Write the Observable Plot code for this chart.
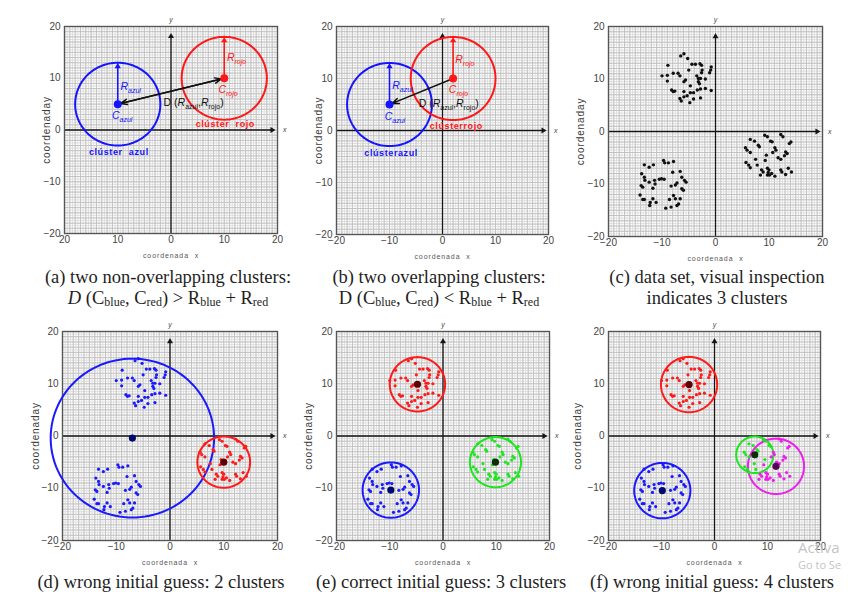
<!DOCTYPE html>
<html><head><meta charset="utf-8">
<script src="https://cdn.jsdelivr.net/npm/d3@7"></script>
<script src="https://cdn.jsdelivr.net/npm/@observablehq/plot@0.6"></script>
<style>
html,body{margin:0;padding:0;background:#fff;}
body{width:848px;height:592px;overflow:hidden;position:relative;font-family:"Liberation Sans",Arial,sans-serif;}
.panel{position:absolute;}
.cap{position:absolute;font-family:"Liberation Serif","Times New Roman",serif;font-size:18.5px;line-height:21px;color:#1e1e1e;text-align:center;white-space:nowrap;transform:translateX(-50%);}
.cap sub{font-size:12px;vertical-align:-2px;line-height:0;}
.wm{position:absolute;font-family:"Open Sans","Liberation Sans",sans-serif;color:#c4c4c4;white-space:nowrap;}
</style></head><body>
<script>
// ---------- data ----------
const axisTicks = [-20, -10, 0, 10, 20];

// three point clouds (reused in d, e, f)
const clusterA = [[-6.5,14.4],[-5.9,14.8],[-5.2,13.9],[-8.9,12.6],[-4.4,12.8],[-3.75,12.8],[-2.9,12.9],[-2.6,12.6],[-0.8,12.3],[-0.9,11.7],[-1.1,11.2],[-5.0,11.7],[-2.5,11.7],[-2.6,11.2],[-10.0,10.6],[-9.0,10.7],[-7.9,11.1],[-7.0,11.1],[-6.65,10.6],[-3.5,10.6],[-3.2,10.1],[-2.8,10.1],[-1.9,10.0],[-9.0,9.6],[-5.6,9.8],[-5.9,9.5],[-3.2,9.5],[-3.0,9.1],[-4.7,8.7],[-8.2,7.9],[-7.9,7.6],[-7.6,7.7],[-5.9,7.6],[-3.4,7.9],[-2.8,8.1],[-1.9,8.2],[-0.8,7.8],[-4.7,7.4],[-4.1,7.4],[-5.3,6.8],[-2.8,6.4],[-6.65,6.3],[-6.4,5.8],[-5.9,6.6],[-4.8,5.5],[-4.1,6.2]];
const clusterB = [[-13.3,-6.35],[-12.4,-6.8],[-11.6,-6.35],[-9.7,-5.5],[-9.5,-5.97],[-8.8,-5.97],[-7.85,-5.7],[-13.8,-8.06],[-13.3,-8.7],[-13.2,-9.3],[-12.4,-9.65],[-11.4,-9.3],[-10.5,-9.1],[-10.1,-9.0],[-9.6,-9.1],[-11.3,-10.0],[-11.7,-10.8],[-13.9,-10.3],[-13.6,-10.6],[-8.0,-7.75],[-6.6,-7.6],[-6.3,-8.7],[-5.8,-9.3],[-5.5,-9.65],[-7.2,-9.8],[-7.5,-10.2],[-8.3,-10.4],[-6.3,-10.9],[-6.0,-11.2],[-14.1,-12.1],[-13.6,-12.95],[-13.3,-12.95],[-11.7,-12.8],[-12.2,-13.5],[-11.1,-13.5],[-12.3,-14.1],[-7.85,-12.2],[-7.5,-12.8],[-8.6,-12.95],[-6.9,-13.8],[-7.2,-14.1],[-8.3,-14.4],[-9.3,-14.6],[-6.6,-12.8]];
const clusterC = [[6.5,-1.5],[7.3,-1.84],[9.2,-0.7],[9.7,-1.0],[10.3,-1.84],[12.2,-0.57],[12.6,-1.0],[13.8,-2.3],[5.6,-3.1],[5.9,-3.55],[6.5,-4.0],[8.0,-2.6],[8.2,-2.9],[10.6,-1.97],[11.1,-3.1],[11.3,-3.55],[10.7,-4.0],[13.1,-3.9],[13.4,-4.2],[12.9,-4.6],[11.7,-5.0],[12.2,-5.3],[9.5,-4.5],[7.5,-5.3],[5.7,-5.9],[6.2,-6.4],[6.5,-6.9],[7.8,-6.4],[8.6,-7.3],[8.9,-7.7],[9.7,-7.0],[10.0,-7.3],[9.85,-7.8],[10.5,-8.0],[8.4,-8.3],[9.7,-8.3],[10.1,-8.3],[11.1,-8.5],[12.2,-7.3],[12.4,-7.7],[13.6,-7.0],[13.1,-8.2],[14.2,-7.7],[9.3,-5.5],[14.1,-2.0]];

// panel a / b: two clusters (center, radius)
const clustersA = [{id:"azul", cx:-10, cy:5, r:8}, {id:"rojo", cx:10, cy:10, r:8}];
const clustersB = [{id:"azul", cx:-10, cy:5, r:8}, {id:"rojo", cx:2, cy:10, r:8}];

// annotation texts (anchor in data units)
const labelsA = [
  {t:"R_{azul}", x:-9.5, y:8.4, k:"azul", kind:"sym"},
  {t:"C_{azul}", x:-11.1, y:2.8, k:"azul", kind:"sym"},
  {t:"R_{rojo}", x:10.5, y:13.9, k:"rojo", kind:"sym"},
  {t:"C_{rojo}", x:8.9, y:7.8, k:"rojo", kind:"sym"},
  {t:"clúster  azul", x:-9.8, y:-4.3, k:"azul", kind:"name"},
  {t:"clúster  rojo", x:10.2, y:1.1, k:"rojo", kind:"name"},
  {t:"D (*R*_{azul},*R*_{rojo})", x:-1.4, y:5.3, k:"black", kind:"dist"}
];
const labelsB = [
  {t:"R_{azul}", x:-9.5, y:8.6, k:"azul", kind:"sym"},
  {t:"C_{azul}", x:-10.9, y:2.65, k:"azul", kind:"sym"},
  {t:"R_{rojo}", x:2.4, y:13.7, k:"rojo", kind:"sym"},
  {t:"C_{rojo}", x:1.2, y:7.9, k:"rojo", kind:"sym"},
  {t:"clústerazul", x:-9.7, y:-4.4, k:"azul", kind:"name"},
  {t:"clústerrojo", x:2.6, y:0.75, k:"rojo", kind:"name"},
  {t:"D (*R*_{azul},*R*_{rojo})", x:-4.5, y:5.1, k:"black", kind:"dist"}
];

// k-means results: centers and radii
const kmeans2 = [{id:"blue", cx:-7, cy:-0.4, r:15.2}, {id:"red", cx:10, cy:-5, r:4.9}];
const kmeans3 = [{id:"red", cx:-4.8, cy:9.9, r:5.2}, {id:"blue", cx:-9.8, cy:-10.35, r:5.3}, {id:"green", cx:9.85, cy:-5, r:4.8}];
const kmeans4 = [{id:"red", cx:-4.8, cy:9.85, r:5.3}, {id:"blue", cx:-9.85, cy:-10.45, r:5.3}, {id:"green", cx:7.6, cy:-3.6, r:3.5}, {id:"magenta", cx:11.6, cy:-5.8, r:5.3}];

const captionsTop = [
  ["(a) two non-overlapping clusters:", "<i>D</i> (C<sub>blue</sub>, C<sub>red</sub>) &gt; R<sub>blue</sub> + R<sub>red</sub>"],
  ["(b) two overlapping clusters:", "D (C<sub>blue</sub>, C<sub>red</sub>) &lt; R<sub>blue</sub> + R<sub>red</sub>"],
  ["(c) data set, visual inspection", "indicates 3 clusters"]
];
const captionsBottom = ["(d) wrong initial guess: 2 clusters", "(e) correct initial guess: 3 clusters", "(f) wrong initial guess: 4 clusters"];
const watermark = ["Activa", "Go to Se"];

// ---------- styles ----------
const palette = {azul:"#1414ff", rojo:"#ff1616", black:"#111", blue:"#1a1aff", red:"#ff1a1a", green:"#1ee61e", magenta:"#ee1eee"};
const darkPalette = {blue:"#00096e", red:"#5e0000", green:"#0c2c0c", magenta:"#5a005a"};
const ML = 45, MR = 22, MT = 20, MB = 32;

// ---------- helpers ----------
const allPts = [...clusterA, ...clusterB, ...clusterC].map(([x, y]) => ({x, y}));
const ANG = d3.range(0, 360, 3);
function ring(cl) {
  return cl.flatMap(c => ANG.map(a => ({id: c.id, x: c.cx + c.r * Math.cos(a * Math.PI / 180), y: c.cy + c.r * Math.sin(a * Math.PI / 180)})));
}
function nearest(p, centers) {
  return d3.least(centers, c => (c.cx - p.x) ** 2 + (c.cy - p.y) ** 2).id;
}
const minus = d => d < 0 ? "\u2212" + Math.abs(d) : String(d);
const gridHalf = d3.range(-20, 20.01, 0.5);
const gridInt = d3.range(-20, 20.01, 1);
const axisLines = [{x1:-20, y1:0, x2:19.0, y2:0, rot:90}, {x1:0, y1:-20, x2:0, y2:18.1, rot:0}];

function baseMarks(o) {
  return [
    Plot.ruleX(gridHalf, {stroke:"#d9d9d9", strokeWidth:0.8}),
    Plot.ruleY(gridHalf, {stroke:"#d9d9d9", strokeWidth:0.8}),
    Plot.ruleX(gridInt, {stroke:"#bdbdbd", strokeWidth:0.8}),
    Plot.ruleY(gridInt, {stroke:"#bdbdbd", strokeWidth:0.8}),
    Plot.link(axisLines, {x1:"x1", y1:"y1", x2:"x2", y2:"y2", stroke:"#151515", strokeWidth:1.3}),
    Plot.dot(axisLines, {x:"x2", y:"y2", symbol:"triangle", r:2.2, fill:"#151515", rotate:"rot"}),
    Plot.frame({stroke:"#555", strokeWidth:1.4}),
    Plot.text(axisTicks, {x:d => d, frameAnchor:"bottom", dy:9, text:o.xfmt || minus, fontSize:10, fill:"#444"}),
    Plot.text(axisTicks, {y:d => d, frameAnchor:"left", dx:-4, textAnchor:"end", text:minus, fontSize:10, fill:"#444"}),
    Plot.text(["coordenaday"], {frameAnchor:"left", dx:o.ylab, rotate:-90, textAnchor:"middle", fontSize:10, fill:"#3a3a3a"}),
    Plot.text(["coordenada  x"], {frameAnchor:"bottom", dy:24, textAnchor:"middle", fontSize:7, fill:"#555"}),
    Plot.text([0], {x:d => d, frameAnchor:"top", dy:-9, text:() => "y", fontSize:7, fontStyle:"italic", fill:"#444"}),
    Plot.text([0], {y:d => d, frameAnchor:"right", dx:9, text:() => "x", fontSize:7, fontStyle:"italic", fill:"#444"})
  ];
}

function twoClusterMarks(cl, labels, doubleArrow) {
  const [b, r] = cl;
  const arrows = [{x1:r.cx, y1:r.cy, x2:b.cx, y2:b.cy}];
  if (doubleArrow) arrows.push({x1:b.cx, y1:b.cy, x2:r.cx, y2:r.cy});
  return [
    Plot.line(ring(cl), {x:"x", y:"y", z:"id", stroke:d => palette[d.id], strokeWidth:2, curve:"linear-closed"}),
    Plot.link(cl, {x1:"cx", y1:"cy", x2:"cx", y2:d => d.cy + d.r - 0.7, stroke:d => palette[d.id], strokeWidth:1.6}),
    Plot.dot(cl, {x:"cx", y:d => d.cy + d.r - 0.7, symbol:"triangle", r:2.3, fill:d => palette[d.id]}),
    Plot.arrow(arrows, {x1:"x1", y1:"y1", x2:"x2", y2:"y2", stroke:"#111", strokeWidth:1.5, headLength:7, headAngle:45, insetEnd:3}),
    Plot.dot(cl, {x:"cx", y:"cy", r:4, fill:d => palette[d.id]}),
    Plot.text(labels.filter(d => d.kind === "sym"), {x:"x", y:"y", text:"t", textAnchor:"start", fill:d => palette[d.k], fontSize:10.5, fontStyle:"italic"}),
    Plot.text(labels.filter(d => d.kind === "name"), {x:"x", y:"y", text:"t", textAnchor:"middle", fill:d => palette[d.k], fontSize:9, fontWeight:"bold"}),
    Plot.text(labels.filter(d => d.kind === "dist"), {x:"x", y:"y", text:"t", textAnchor:"start", fill:d => palette[d.k], fontSize:10.5})
  ];
}

function kmeansMarks(centers) {
  const pts = allPts.map(p => ({...p, k: nearest(p, centers)}));
  return [
    Plot.line(ring(centers), {x:"x", y:"y", z:"id", stroke:d => palette[d.id], strokeWidth:2, curve:"linear-closed"}),
    Plot.dot(pts, {x:"x", y:"y", r:1.6, fill:d => palette[d.k]}),
    Plot.dot(centers, {x:"cx", y:"cy", r:3.6, fill:d => darkPalette[d.id]})
  ];
}

function rich(svg) {
  svg.querySelectorAll("text").forEach(t => {
    if (t.querySelector("tspan")) return;
    const s = t.textContent;
    if (/coordenada/.test(s)) t.setAttribute("letter-spacing", "0.9");
    if (/clúster/.test(s)) t.setAttribute("letter-spacing", "0.6");
    if (!/[_*]/.test(s)) return;
    t.textContent = "";
    let italic = false, shifted = false;
    const re = /_\{([^}]*)\}|\*|([^_*]+)/g;
    let m;
    while ((m = re.exec(s))) {
      if (m[0] === "*") { italic = !italic; continue; }
      const ts = document.createElementNS("http://www.w3.org/2000/svg", "tspan");
      if (m[1] !== undefined) {
        ts.textContent = m[1];
        ts.setAttribute("font-size", "7");
        if (!shifted) ts.setAttribute("dy", "3");
        shifted = true;
      } else {
        ts.textContent = m[2];
        if (shifted) ts.setAttribute("dy", "-3");
        shifted = false;
      }
      if (italic) ts.setAttribute("font-style", "italic");
      t.appendChild(ts);
    }
  });
}

const panels = [
  {left:64, top:26, w:213, h:207, ylab:-18, xfmt:d => String(Math.abs(d)), marks:twoClusterMarks(clustersA, labelsA, true)},
  {left:336, top:26, w:212, h:208, ylab:-18, marks:twoClusterMarks(clustersB, labelsB, false)},
  {left:608, top:26, w:214, h:210, ylab:-28, marks:[Plot.dot(allPts, {x:"x", y:"y", r:1.7, fill:"#111"})]},
  {left:62, top:331, w:215, h:209, ylab:-27, marks:kmeansMarks(kmeans2)},
  {left:336, top:331, w:213, h:209, ylab:-28, marks:kmeansMarks(kmeans3)},
  {left:608, top:331, w:212, h:209, ylab:-31, marks:kmeansMarks(kmeans4)}
];

for (const p of panels) {
  const svg = Plot.plot({
    width: p.w + ML + MR, height: p.h + MT + MB,
    marginLeft: ML, marginRight: MR, marginTop: MT, marginBottom: MB,
    x: {domain: [-20, 20], axis: null},
    y: {domain: [-20, 20], axis: null},
    style: "background: transparent; overflow: visible; font-family: 'Liberation Sans', Arial, sans-serif;",
    marks: [...baseMarks(p), ...p.marks]
  });
  rich(svg);
  const div = document.createElement("div");
  div.className = "panel";
  div.style.left = (p.left - ML) + "px";
  div.style.top = (p.top - MT) + "px";
  div.appendChild(svg);
  document.body.appendChild(div);
}

const capXTop = [168, 439, 717], capXBottom = [161, 441, 712];
captionsTop.forEach((c, i) => {
  const d = document.createElement("div");
  d.className = "cap";
  d.style.left = capXTop[i] + "px";
  d.style.top = "267px";
  d.innerHTML = c[0] + "<br>" + c[1];
  document.body.appendChild(d);
});
captionsBottom.forEach((c, i) => {
  const d = document.createElement("div");
  d.className = "cap";
  d.style.left = capXBottom[i] + "px";
  d.style.top = "572px";
  d.textContent = c;
  document.body.appendChild(d);
});
const w1 = document.createElement("div");
w1.className = "wm"; w1.style.left = "798px"; w1.style.top = "537px"; w1.style.fontSize = "15px"; w1.textContent = watermark[0];
const w2 = document.createElement("div");
w2.className = "wm"; w2.style.left = "798px"; w2.style.top = "557px"; w2.style.fontSize = "11px"; w2.textContent = watermark[1];
document.body.append(w1, w2);
</script>
</body></html>
